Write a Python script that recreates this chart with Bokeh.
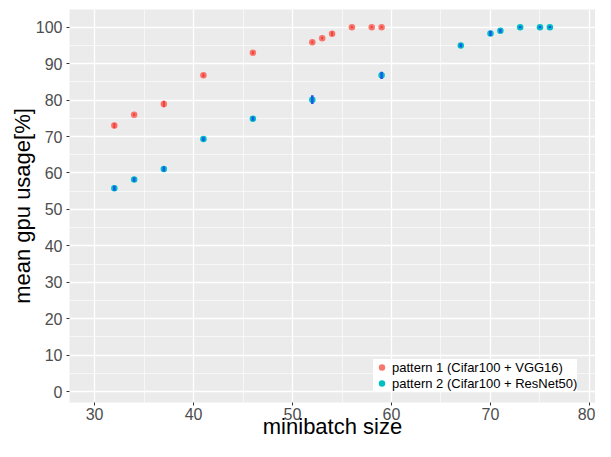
from bokeh.plotting import figure
from bokeh.models import FixedTicker, Range1d, Legend, LegendItem, ColumnDataSource
from bokeh.embed import file_html
from bokeh.resources import INLINE

# ---- data ----
batch1 = [32, 34, 37, 41, 46, 52, 53, 54, 56, 58, 59]
usage1 = [73.0, 76.0, 78.9, 86.8, 93.0, 95.9, 97.0, 98.2, 100.0, 100.0, 100.0]
sd1 = [0.7, 0.4, 0.9, 0.5, 0.4, 0.4, 0.4, 0.6, 0.3, 0.3, 0.3]

batch2 = [32, 34, 37, 41, 46, 52, 59, 67, 70, 71, 73, 75, 76]
usage2 = [55.8, 58.2, 61.1, 69.3, 74.9, 80.1, 86.8, 95.0, 98.3, 99.0, 100.0, 100.0, 100.0]
sd2 = [0.7, 0.6, 0.7, 0.5, 0.6, 1.2, 1.0, 0.5, 0.7, 0.5, 0.3, 0.3, 0.3]

x_ticks = [30, 40, 50, 60, 70, 80]
x_minor = [25, 35, 45, 55, 65, 75, 85]
y_ticks = [0, 10, 20, 30, 40, 50, 60, 70, 80, 90, 100]
y_minor = [5, 15, 25, 35, 45, 55, 65, 75, 85, 95]
series_labels = ["pattern 1 (Cifar100 + VGG16)", "pattern 2 (Cifar100 + ResNet50)"]

src1 = ColumnDataSource(dict(x=batch1, y=usage1,
                             lo=[u - s for u, s in zip(usage1, sd1)],
                             hi=[u + s for u, s in zip(usage1, sd1)]))
src2 = ColumnDataSource(dict(x=batch2, y=usage2,
                             lo=[u - s for u, s in zip(usage2, sd2)],
                             hi=[u + s for u, s in zip(usage2, sd2)]))

p = figure(width=595, height=441, output_backend="svg", toolbar_location=None,
           x_range=Range1d(27.47, 80.61), y_range=Range1d(-3.0, 104.86),
           min_border_left=69, min_border_right=0, min_border_top=9,
           min_border_bottom=37)

p.background_fill_color = "#EBEBEB"
p.border_fill_color = "white"
p.outline_line_color = None

# grids
for g in (p.xgrid[0], p.ygrid[0]):
    g.grid_line_color = "white"
    g.grid_line_width = 1.3
    g.minor_grid_line_color = "white"
    g.minor_grid_line_width = 0.6
p.xaxis.ticker = FixedTicker(ticks=x_ticks, minor_ticks=x_minor)
p.yaxis.ticker = FixedTicker(ticks=y_ticks, minor_ticks=y_minor)

# axes
for ax in (p.xaxis[0], p.yaxis[0]):
    ax.axis_line_color = None
    ax.major_tick_line_color = "#333333"
    ax.major_tick_out = 3
    ax.major_tick_in = 0
    ax.minor_tick_line_color = None
    ax.major_label_text_color = "#4D4D4D"
    ax.major_label_text_font = "Liberation Sans"
    ax.major_label_text_font_size = "16px"
    ax.axis_label_text_font = "Liberation Sans"
    ax.axis_label_text_font_style = "normal"
    ax.axis_label_text_color = "black"
    ax.axis_label_text_font_size = "22px"

p.xaxis.axis_label = "minibatch size"
p.xaxis.major_label_standoff = 1
p.xaxis.axis_label_standoff = -9

p.yaxis.axis_label = "mean gpu usage[%]"
p.yaxis.major_label_standoff = 3
p.yaxis.axis_label_standoff = -2

# points
r1 = p.scatter("x", "y", source=src1, size=6.5, fill_color="#F8766D", line_color=None)
r2 = p.scatter("x", "y", source=src2, size=6.5, fill_color="#00BFC4", line_color=None)

# error bars
p.segment(x0="x", y0="lo", x1="x", y1="hi", source=src1,
          line_color="#F0413A", line_width=2)
p.segment(x0="x", y0="lo", x1="x", y1="hi", source=src2,
          line_color="#1A56F0", line_width=2.5)

legend = Legend(items=[LegendItem(label=series_labels[0], renderers=[r1]),
                       LegendItem(label=series_labels[1], renderers=[r2])],
                location=(304, 11))
legend.margin = 0
legend.padding = 3
legend.spacing = 0
legend.glyph_width = 17
legend.glyph_height = 16
legend.label_height = 16
legend.label_standoff = 2
legend.label_text_font = "Liberation Sans"
legend.label_text_font_size = "13px"
legend.label_text_color = "black"
legend.background_fill_color = "white"
legend.background_fill_alpha = 1.0
legend.border_line_color = None
p.add_layout(legend, "center")

open("out.html", "w").write(file_html(p, INLINE))
